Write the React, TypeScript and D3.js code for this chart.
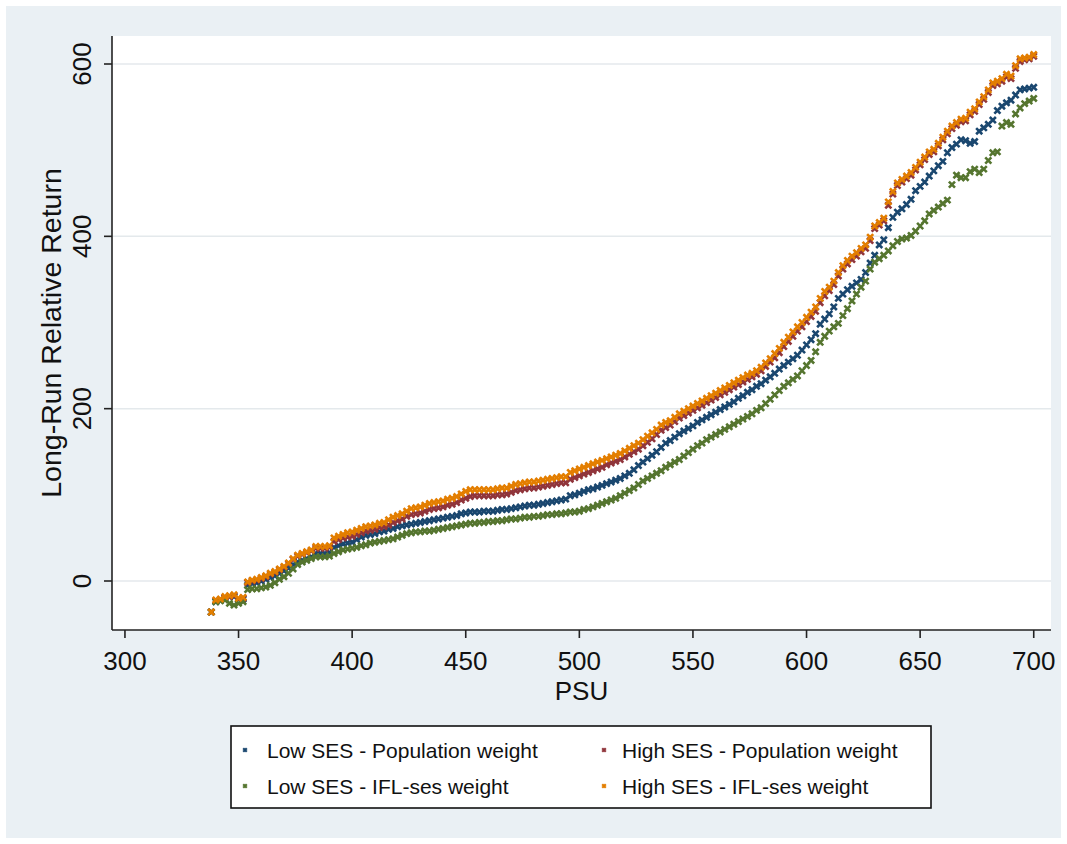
import React from "react";
import * as d3 from "d3";

const psuStart = 338;
const psuStep = 2;

const lowPop = [
-36,-24,-22,-20,-18,-18,-21,-21,-5,-3,-2,0,2,4,6,9,12,15,19,22,24,26,28,32,32,32,33,39,41,43,44,45,48,51,53,54,55,57,58,60,61,63,64,65,66,67,68,69,70,71,72,73,74,75,76,78,79,80,80,80,81,81,81,82,83,83,84,85,86,87,88,88,89,90,91,92,93,94,95,99,100,102,104,106,107,109,111,113,115,117,119,122,125,129,134,138,142,146,150,155,160,163,167,171,174,177,180,184,187,190,193,196,199,202,205,208,212,215,219,222,226,229,233,237,241,246,250,254,258,262,268,274,280,287,298,304,310,318,328,333,338,342,346,350,358,369,378,390,396,410,422,428,432,437,443,453,458,463,470,476,482,487,497,503,507,512,511,508,510,522,526,530,535,546,551,555,558,564,570,571,572,573
];

const highPop = [
-36,-23,-22,-19,-18,-17,-21,-20,-2,0,1,3,5,8,10,13,16,20,25,29,31,33,35,38,38,38,39,46,48,50,51,52,54,56,58,59,60,62,63,65,68,70,72,75,77,78,79,81,83,84,85,86,88,89,91,94,96,98,99,99,99,99,99,100,100,101,103,105,106,107,108,108,109,110,111,112,113,114,114,118,120,122,124,126,128,130,132,135,137,139,141,144,147,150,153,157,161,165,170,175,178,181,185,189,192,195,198,201,204,207,210,213,216,219,222,225,228,231,234,237,240,244,249,254,259,265,272,278,284,290,295,301,307,313,323,331,337,344,354,362,368,373,377,382,386,395,409,413,418,436,449,459,463,467,471,477,483,489,495,498,505,512,519,525,529,533,534,541,545,553,559,567,575,577,580,585,583,595,603,605,606,609
];

const lowIfl = [
-36,-24,-23,-22,-26,-28,-26,-24,-10,-9,-9,-8,-7,-5,-2,2,5,9,14,19,22,24,26,28,28,28,29,32,34,36,37,38,39,41,42,44,45,46,47,48,49,51,53,55,56,57,57,58,58,59,60,61,62,63,64,65,66,67,67,68,68,69,69,70,70,71,72,72,73,74,74,75,75,76,77,77,78,78,79,80,80,81,83,84,86,88,90,92,94,96,99,102,105,108,112,116,119,122,125,128,132,135,138,141,145,149,153,157,160,164,167,170,173,176,179,182,185,188,191,194,198,201,206,211,216,221,226,230,234,238,244,250,256,266,277,284,290,295,299,308,316,325,333,341,348,362,370,374,378,383,389,394,397,398,401,406,412,418,426,430,434,438,442,460,471,468,468,475,478,474,478,488,497,498,528,532,530,542,549,554,557,560
];

const highIfl = [
-36,-22,-21,-18,-17,-16,-20,-19,-1,1,2,4,6,9,11,14,17,21,26,30,32,34,36,40,40,40,41,50,52,54,56,57,59,61,63,64,65,67,68,71,74,76,78,81,84,85,86,88,90,91,92,93,95,96,98,101,104,106,106,106,106,106,106,107,108,108,110,112,113,114,115,115,116,117,118,119,120,121,121,126,128,130,132,134,136,138,140,142,144,146,148,151,154,157,160,164,168,172,176,181,184,186,190,194,197,200,203,206,209,212,215,218,221,224,227,230,233,236,239,241,244,248,253,258,264,270,277,283,289,295,300,306,312,318,328,336,341,348,358,366,372,377,381,386,390,399,412,416,421,440,452,462,466,470,474,480,486,492,498,501,508,515,522,528,532,536,537,544,548,556,562,570,578,580,583,588,586,598,606,607,608,611
];

const seriesNames = [
  "Low SES - Population weight",
  "High SES - Population weight",
  "Low SES - IFL-ses weight",
  "High SES - IFL-ses weight",
];
const seriesColors = ["#1a476f", "#90353b", "#55752f", "#e37e00"];
const seriesValues = [lowPop, highPop, lowIfl, highIfl];

const xTicks = [300, 350, 400, 450, 500, 550, 600, 650, 700];
const yTicks = [0, 200, 400, 600];

const W = 1067;
const H = 844;
const plotL = 112;
const plotR = 1051;
const plotT = 36;
const plotB = 630;

const font = "'Liberation Sans', Arial, Helvetica, sans-serif";

export default function App() {
  const x = d3.scaleLinear().domain([294.3, 707.6]).range([plotL, plotR]);
  const y = d3.scaleLinear().domain([0, 600]).range([581, 64]);
  const marker = d3.symbol(d3.symbolTimes, 26)();
  const legendMarker = d3.symbol(d3.symbolTimes, 10)();

  const order = [0, 1, 2, 3];

  const legendItems = [
    { i: 0, lx: 245, tx: 267, ty: 750 },
    { i: 1, lx: 604, tx: 622, ty: 750 },
    { i: 2, lx: 245, tx: 267, ty: 786 },
    { i: 3, lx: 604, tx: 622, ty: 786 },
  ];

  return (
    <svg
      width={W}
      height={H}
      style={{ position: "absolute", left: 0, top: 0, background: "#ffffff" }}
      fontFamily={font}
    >
      <rect x={6} y={6} width={W - 12} height={H - 12} fill="#eaf0f4" />
      <rect x={plotL} y={plotT} width={plotR - plotL} height={plotB - plotT} fill="#ffffff" />
      {yTicks.map((t) => (
        <line
          key={"g" + t}
          x1={plotL}
          x2={plotR}
          y1={y(t)}
          y2={y(t)}
          stroke="#e4e9ec"
          strokeWidth={1.5}
        />
      ))}
      {order.map((si) => (
        <g key={"s" + si} stroke={seriesColors[si]} strokeWidth={2.6} fill="none">
          {seriesValues[si].map((v, k) => (
            <path
              key={k}
              d={marker as string}
              transform={`translate(${x(psuStart + k * psuStep)},${y(v)})`}
            />
          ))}
        </g>
      ))}
      <line x1={plotL} x2={plotL} y1={plotT} y2={plotB} stroke="#222" strokeWidth={1.6} />
      <line x1={plotL} x2={plotR} y1={plotB} y2={plotB} stroke="#222" strokeWidth={1.6} />
      {yTicks.map((t) => (
        <g key={"yt" + t}>
          <line x1={plotL - 8} x2={plotL} y1={y(t)} y2={y(t)} stroke="#222" strokeWidth={1.6} />
          <text
            transform={`translate(90.5,${y(t)}) rotate(-90)`}
            textAnchor="middle"
            fontSize={26}
            fill="#111"
          >
            {t}
          </text>
        </g>
      ))}
      {xTicks.map((t) => (
        <g key={"xt" + t}>
          <line x1={x(t)} x2={x(t)} y1={plotB} y2={plotB + 8} stroke="#222" strokeWidth={1.6} />
          <text x={x(t)} y={669.5} textAnchor="middle" fontSize={26} fill="#111">
            {t}
          </text>
        </g>
      ))}
      <text x={(plotL + plotR) / 2} y={700} textAnchor="middle" fontSize={26} fill="#111">
        PSU
      </text>
      <text
        transform={`translate(61,${(plotT + plotB) / 2}) rotate(-90)`}
        textAnchor="middle"
        fontSize={28.5}
        fill="#111"
      >
        Long-Run Relative Return
      </text>
      <rect x={231} y={726} width={700} height={82} fill="#ffffff" stroke="#111" strokeWidth={1.6} />
      {legendItems.map((it) => (
        <g key={"l" + it.i}>
          <path
            d={legendMarker as string}
            transform={`translate(${it.lx},${it.ty})`}
            stroke={seriesColors[it.i]}
            strokeWidth={2.2}
            fill="none"
          />
          <text x={it.tx} y={it.ty + 7.5} fontSize={21} fill="#111">
            {seriesNames[it.i]}
          </text>
        </g>
      ))}
    </svg>
  );
}
